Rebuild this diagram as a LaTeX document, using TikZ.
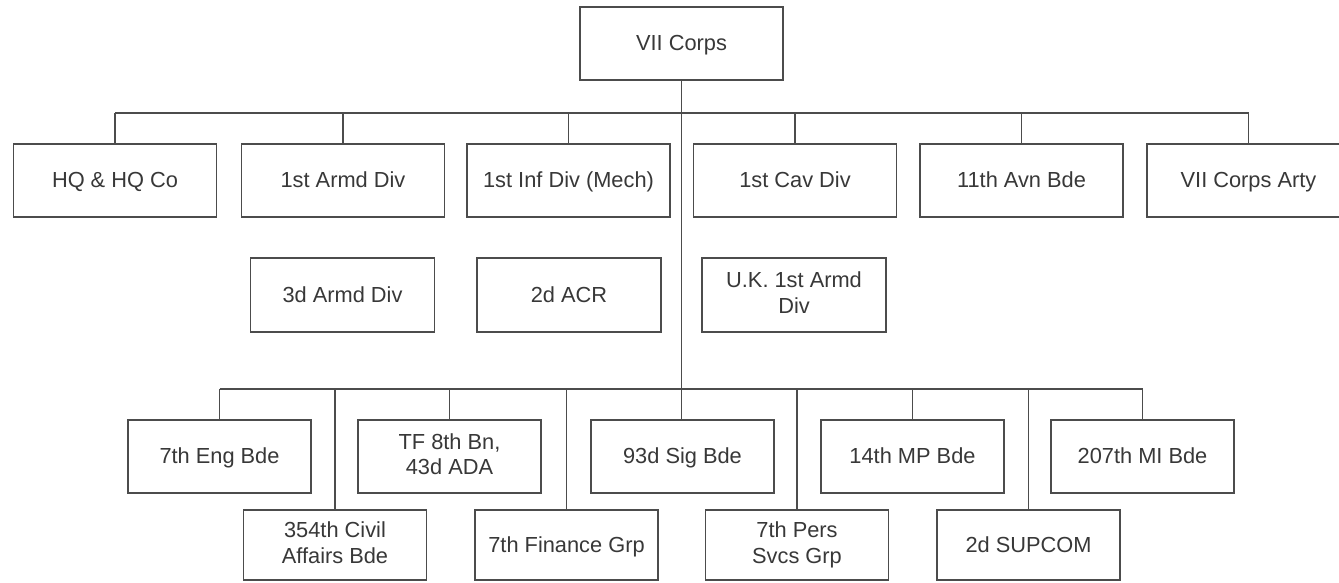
\documentclass[tikz,border=0pt]{standalone}
\usepackage{fontspec}
\setmainfont{Liberation Sans}
\newcommand{\toprule}{\rule{0pt}{0.86em}}
\newcommand{\botrule}{\rule[-0.2em]{0pt}{0.2em}}
\begin{document}
\begin{tikzpicture}[x=1pt,y=-1pt,
  every node/.style={font=\fontsize{21.8}{25.5}\selectfont, text=black!78},
  unit/.style={draw=black!70, line width=1.2pt, fill=white, align=center, inner sep=2pt,
    execute at begin node=\toprule, execute at end node=\botrule},
  rowA/.style={unit, minimum width=203pt, minimum height=73pt},
  rowB/.style={unit, minimum width=184pt, minimum height=74pt},
  rowC/.style={unit, minimum width=183pt, minimum height=73pt},
  rowD/.style={unit, minimum width=183pt, minimum height=70pt},
  link/.style={draw=black!70, line width=1.1pt}]
\useasboundingbox (0,0) rectangle (1339,582);
\begin{scope}
\clip (0,0) rectangle (1339,582);
\node[rowA] (corps) at (681.5,43.5) {VII Corps};
% row 1
\node[rowA] (hq)   at (115,180.5)  {HQ \& HQ Co};
\node[rowA] (ad1)  at (343,180.5)  {1st Armd Div};
\node[rowA] (id1)  at (568.5,180.5) {1st Inf Div (Mech)};
\node[rowA] (cav)  at (795,180.5)  {1st Cav Div};
\node[rowA] (avn)  at (1021.5,180.5) {11th Avn Bde};
\node[rowA] (arty) at (1248.5,180.5) {VII Corps Arty};
% row 2
\node[rowB] (ad3) at (342.5,295) {3d Armd Div};
\node[rowB] (acr) at (569,295) {2d ACR};
\node[rowB] (uk)  at (794,295) {U.K. 1st Armd\\Div};
% row 3 upper
\node[rowC] (eng) at (219.5,456.5) {7th Eng Bde};
\node[rowC] (tf)  at (449.5,456.5) {TF 8th Bn,\\43d ADA};
\node[rowC] (sig) at (682.5,456.5) {93d Sig Bde};
\node[rowC] (mp)  at (912.5,456.5) {14th MP Bde};
\node[rowC] (mi)  at (1142.5,456.5) {207th MI Bde};
% row 3 lower
\node[rowD] (ca)  at (335,545) {354th Civil\\Affairs Bde};
\node[rowD] (fin) at (566.5,545) {7th Finance Grp};
\node[rowD] (pers) at (797,545) {7th Pers\\Svcs Grp};
\node[rowD] (sup) at (1028.5,545) {2d SUPCOM};
% connectors
\coordinate (busA) at (681,113);
\coordinate (busB) at (681,389);
\draw[link] (corps.south) -- (corps.south |- sig.north);
\draw[link] (hq.north |- busA) -- (arty.north |- busA);
\foreach \n in {hq,ad1,id1,cav,avn,arty}
  \draw[link] (\n.north |- busA) -- (\n.north);
\draw[link] (eng.north |- busB) -- (mi.north |- busB);
\foreach \n in {eng,tf,mp,mi,ca,fin,pers,sup}
  \draw[link] (\n.north |- busB) -- (\n.north);
\end{scope}
\end{tikzpicture}
\end{document}
